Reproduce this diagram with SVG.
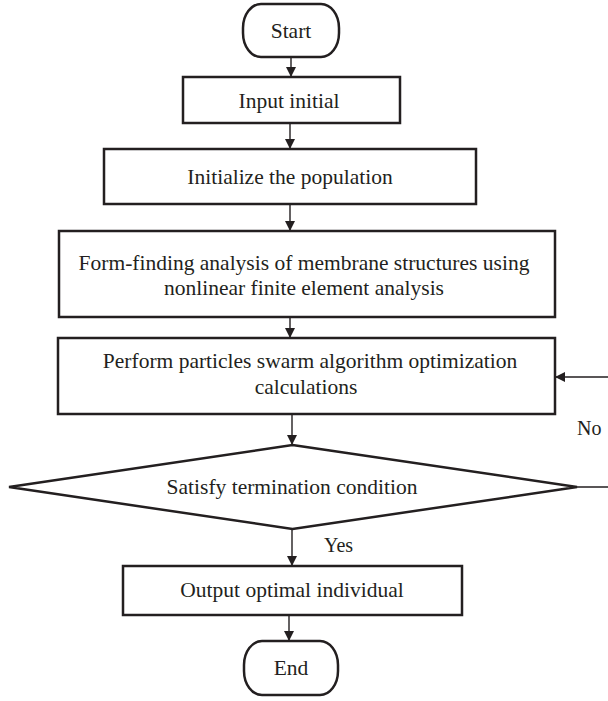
<svg xmlns="http://www.w3.org/2000/svg" width="608" height="701" viewBox="0 0 608 701">
<style>
.box{fill:#fff;stroke:#231f20;stroke-width:2.5}
.t{font-family:"Liberation Serif","DejaVu Serif",serif;font-size:21.5px;fill:#231f20;text-anchor:middle}
.l{font-family:"Liberation Serif","DejaVu Serif",serif;font-size:20px;fill:#231f20}
.c{fill:none;stroke:#231f20;stroke-width:1.4}
</style>
<defs>
<marker id="ah" viewBox="0 0 10 10" refX="10" refY="5" markerWidth="10" markerHeight="10" markerUnits="userSpaceOnUse" orient="auto">
<path d="M0,0 L10,5 L0,10 Z" fill="#231f20"/>
</marker>
</defs>
<rect width="608" height="701" fill="#fff"/>
<g id="connectors">
<path class="c" d="M291,57 V77" marker-end="url(#ah)"/>
<path class="c" d="M290,123 V149" marker-end="url(#ah)"/>
<path class="c" d="M290,204 V231" marker-end="url(#ah)"/>
<path class="c" d="M290,317 V338" marker-end="url(#ah)"/>
<path class="c" d="M292,414 V445" marker-end="url(#ah)"/>
<path class="c" d="M292,529 V566" marker-end="url(#ah)"/>
<path class="c" d="M289,615 V641" marker-end="url(#ah)"/>
<path class="c" d="M576,487 H612 V377 H555" marker-end="url(#ah)"/>
</g>
<g id="start">
<rect class="box" x="243" y="4" width="96" height="53" rx="18" ry="24"/>
<text class="t" x="291" y="38">Start</text>
</g>
<g id="input">
<rect class="box" x="183" y="77" width="217" height="46"/>
<text class="t" x="289" y="107.5">Input initial</text>
</g>
<g id="init">
<rect class="box" x="104" y="149" width="372" height="55"/>
<text class="t" x="290" y="184">Initialize the population</text>
</g>
<g id="formfinding">
<rect class="box" x="59" y="231" width="496" height="86"/>
<text class="t" x="304" y="270">Form-finding analysis of membrane structures using</text>
<text class="t" x="304" y="295">nonlinear finite element analysis</text>
</g>
<g id="pso">
<rect class="box" x="58" y="338" width="497" height="76"/>
<text class="t" x="310" y="368">Perform particles swarm algorithm optimization</text>
<text class="t" x="306" y="394">calculations</text>
</g>
<g id="decision">
<polygon class="box" points="292.5,445 577,487 292.5,529 9,487"/>
<text class="t" x="292" y="494">Satisfy termination condition</text>
</g>
<g id="output">
<rect class="box" x="123" y="566" width="339" height="49"/>
<text class="t" x="292" y="597">Output optimal individual</text>
</g>
<g id="end">
<rect class="box" x="244" y="641" width="94" height="54" rx="18" ry="24"/>
<text class="t" x="291" y="675">End</text>
</g>
<g id="labels">
<text class="l" x="577" y="435">No</text>
<text class="l" x="324" y="552">Yes</text>
</g>
</svg>
